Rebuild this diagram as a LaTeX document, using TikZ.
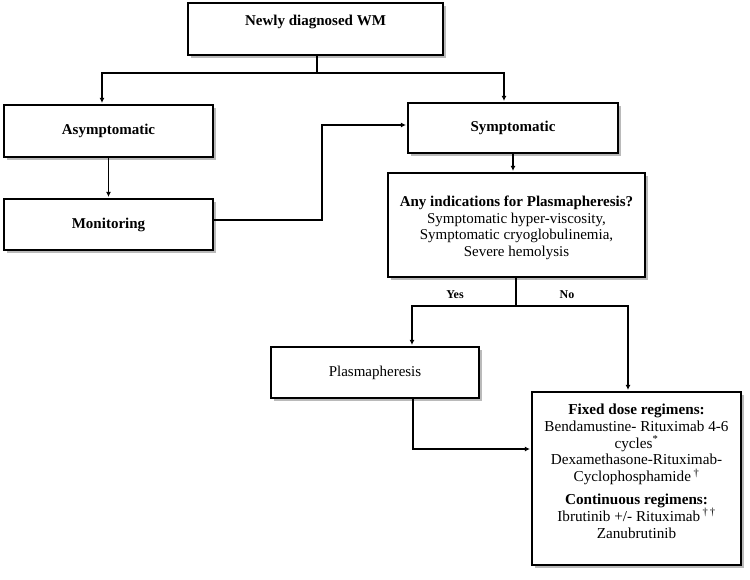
\documentclass[tikz,border=0pt]{standalone}
\usepackage{fontspec}
\setmainfont{Liberation Serif}
\usetikzlibrary{shadows,arrows.meta}
\begin{document}
\begin{tikzpicture}[x=1pt,y=-1pt,
  box/.style={draw=black, line width=1.2pt, fill=white, rectangle, inner sep=0pt,
    drop shadow={shadow xshift=2.5pt, shadow yshift=-2.5pt, fill=black!45, opacity=0.6},
    font=\fontsize{15}{16.6}\selectfont, align=center},
  txt/.style={font=\fontsize{15.2}{16.8}\selectfont, align=center, inner sep=0pt},
  conn/.style={line width=1.8pt, line cap=rect},
  arr/.style={conn, -{Latex[length=5pt,width=5pt]}, shorten >=1.5pt},
  lbl/.style={font=\fontsize{12}{13}\selectfont\bfseries, inner sep=0pt}]
\useasboundingbox (0,0) rectangle (750,579);

\node[box, minimum width=255pt, minimum height=52pt, text depth=18pt] (top) at (315.5,29) {\textbf{Newly diagnosed WM}};
\node[box, minimum width=209pt, minimum height=52pt] (asym) at (108.5,131) {\textbf{Asymptomatic}};
\node[box, minimum width=209pt, minimum height=51pt] (mon) at (108.5,224.5) {\textbf{Monitoring}};
\node[box, minimum width=210pt, minimum height=50pt] (symp) at (513,128) {\textbf{Symptomatic}};
\node[box, minimum width=257pt, minimum height=104pt] (ind) at (516.5,225) {};
\node[txt, font=\fontsize{15}{16.6}\selectfont] (indtxt) at (516.5,228)
  {\textbf{Any indications for Plasmapheresis?}\\Symptomatic hyper-viscosity,\\Symptomatic cryoglobulinemia,\\Severe hemolysis};
\node[box, minimum width=208pt, minimum height=51pt] (plas) at (375,372.5) {Plasmapheresis};
\node[box, minimum width=209pt, minimum height=173pt] (fixed) at (636.5,478.5) {};
\node[txt] (fixedtxt) at (636.5,471)
  {\textbf{Fixed dose regimens:}\\Bendamustine- Rituximab 4-6\\cycles\textsuperscript{*}\\Dexamethasone-Rituximab-\\Cyclophosphamide\,\textsuperscript{\dag}\\[6pt]\textbf{Continuous regimens:}\\Ibrutinib +/- Rituximab\,\textsuperscript{\dag\,\dag}\\Zanubrutinib};

% connectors
\coordinate (j1) at (317,73);
\coordinate (jl) at (102,73);
\coordinate (jr) at (504,73);
\draw[conn] (top.south -| j1) -- (j1);
\draw[conn] (jl) -- (jr);
\draw[arr] (jl) -- (jl |- asym.north);
\draw[arr] (jr) -- (jr |- symp.north);

\draw[arr] (asym.south) -- (mon.north);

\coordinate (mb) at (322,125);
\draw[arr] (mon.east |- 0,220) -| (mb) -- (symp.west |- mb);

\draw[arr] (symp.south) -- (symp.south |- ind.north);

\coordinate (j2) at (516,306);
\coordinate (yl) at (412,306);
\coordinate (nr) at (628,306);
\draw[conn] (ind.south -| j2) -- (j2);
\draw[conn] (yl) -- (nr);
\draw[arr] (yl) -- (yl |- plas.north);
\draw[arr] (nr) -- (nr |- fixed.north);
\node[lbl] (yes) at (455,295) {Yes};
\node[lbl] (no) at (567,295) {No};

\coordinate (pj) at (413,449);
\draw[arr] (plas.south -| pj) -- (pj) -- (fixed.west |- pj);
\end{tikzpicture}
\end{document}
